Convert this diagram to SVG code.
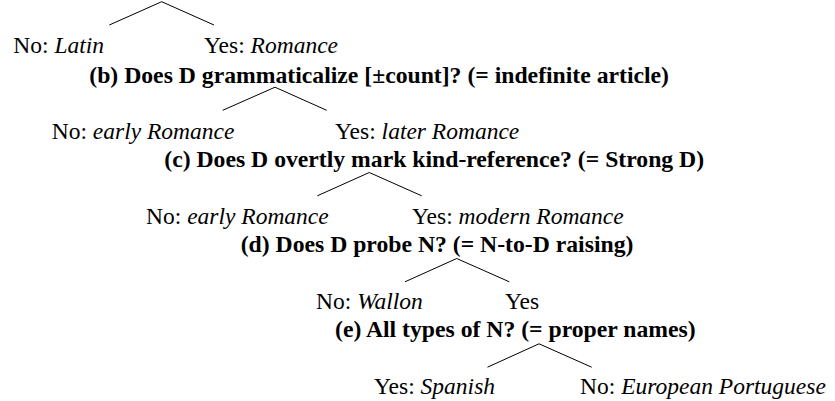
<svg xmlns="http://www.w3.org/2000/svg" width="835" height="401" viewBox="0 0 835 401">
<style>
text { font-family: "Liberation Serif", "Times New Roman", serif; fill: #000; }
.lab { font-size: 23.5px; }
.q { font-size: 23.7px; font-weight: bold; }
.it { font-style: italic; }
.edge { stroke: #000; stroke-width: 1; fill: none; }
</style>
<rect width="835" height="401" fill="#fff"/>
<g id="connectors">
<path class="edge" d="M109.3,25 L161.7,1.7 L214,25"/>
<path class="edge" d="M222.7,110.3 L275,87.2 L326.7,110.3"/>
<path class="edge" d="M317.3,195.8 L369.3,172.5 L421.7,195.8"/>
<path class="edge" d="M405,281.8 L456.7,258.5 L509.3,281.8"/>
<path class="edge" d="M487.5,367.2 L539,343.8 L591.7,367.2"/>
</g>
<g id="a-no"><text class="lab" x="13.3" y="53.3">No: <tspan class="it">Latin</tspan></text></g>
<g id="a-yes"><text class="lab" x="204" y="53.3">Yes: <tspan class="it">Romance</tspan></text></g>
<g id="q-b"><text class="q" x="89.3" y="82.7">(b) Does D grammaticalize [±count]? (= indefinite article)</text></g>
<g id="b-no"><text class="lab" x="51.7" y="138.5">No: <tspan class="it">early Romance</tspan></text></g>
<g id="b-yes"><text class="lab" x="335" y="138.5">Yes: <tspan class="it">later Romance</tspan></text></g>
<g id="q-c"><text class="q" x="164.3" y="167">(c) Does D overtly mark kind-reference? (= Strong D)</text></g>
<g id="c-no"><text class="lab" x="146" y="223.5">No: <tspan class="it">early Romance</tspan></text></g>
<g id="c-yes"><text class="lab" x="412" y="223.5">Yes: <tspan class="it">modern Romance</tspan></text></g>
<g id="q-d"><text class="q" x="240.7" y="251.5">(d) Does D probe N? (= N-to-D raising)</text></g>
<g id="d-no"><text class="lab" x="316" y="309.2">No: <tspan class="it">Wallon</tspan></text></g>
<g id="d-yes"><text class="lab" x="505" y="309.2">Yes</text></g>
<g id="q-e"><text class="q" x="335" y="337.3">(e) All types of N? (= proper names)</text></g>
<g id="e-yes"><text class="lab" x="374" y="393.5">Yes: <tspan class="it">Spanish</tspan></text></g>
<g id="e-no"><text class="lab" x="580" y="393.5">No: <tspan class="it">European Portuguese</tspan></text></g>
</svg>
